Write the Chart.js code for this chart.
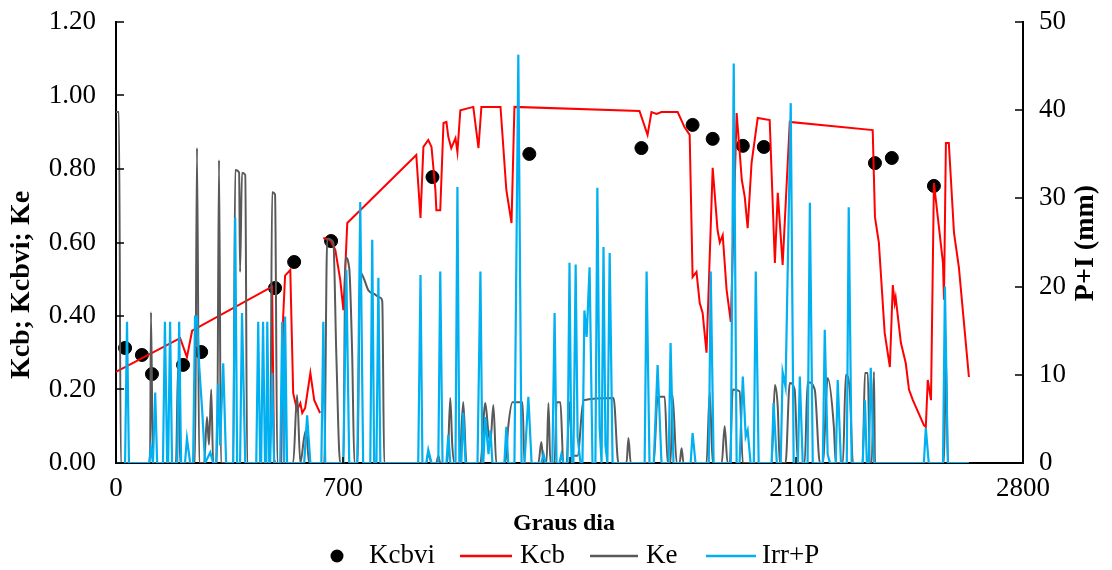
<!DOCTYPE html>
<html>
<head>
<meta charset="utf-8">
<script src="https://cdn.jsdelivr.net/npm/chart.js@4.4.0/dist/chart.umd.min.js"></script>
<style>
  body { margin: 0; background: #fff; }
  #wrap { width: 1112px; height: 570px; }
</style>
</head>
<body>
<div id="wrap"><canvas id="myChart" width="1112" height="570"></canvas></div>
<script>
// Kcbvi (points)
const kcbviX = [28, 80, 111, 207, 263, 491, 550, 664, 977, 1276, 1622, 1780, 1842, 1935, 2000, 2343, 2395, 2525];
const kcbviY = [0.313, 0.294, 0.242, 0.267, 0.302, 0.476, 0.547, 0.604, 0.778, 0.841, 0.857, 0.92, 0.882, 0.863, 0.86, 0.816, 0.83, 0.754];

// Kcb (red line), null = break in the line
const kcbX = [0, 198, 219, 235, 482, 488, 491, 510, 516, 522, 538, 547, 559, 569, 575, 584, 600, 612, 630,
  636, 640, 661, 677, 692, 702, 714, 927, 940, 949, 964, 974, 986, 989, 1001, 1011, 1020, 1026, 1035, 1048, 1054,
  1063, 1103, 1119, 1128, 1187, 1205, 1221, 1230, 1616, 1641, 1653, 1669, 1684, 1734, 1755, 1771, 1780, 1792,
  1802, 1811, 1823, 1842, 1857, 1864, 1873, 1885, 1898, 1916, 1932, 1941, 1950, 1962, 1981, 2018, 2034, 2043,
  2058, 2080, 2336, 2343, 2355, 2373, 2389, 2398, 2404, 2407, 2423, 2438, 2448, 2460, 2494, 2500, 2506, 2516,
  2525, 2537, 2553, 2556, 2562, 2571, 2587, 2602, 2615, 2633];
const kcbY = [0.248, 0.34, 0.288, 0.36, 0.48, 0.01, 0, 0, 0.397, 0.51, 0.525, 0.19, 0.144, 0.163, 0.136, 0.15, 0.245, 0.171, 0.136,
  null, 0.612, 0.607, 0.58, 0.5, 0.416, 0.653, 0.838, 0.667, 0.86, 0.879, 0.86, 0.743, 0.688, 0.688, 0.925, 0.928, 0.887, 0.857, 0.884, 0.846,
  0.96, 0.969, 0.857, 0.969, 0.969, 0.743, 0.653, 0.969, 0.958, 0.893, 0.955, 0.95, 0.955, 0.955, 0.914, 0.893, 0.506, 0.52,
  0.435, 0.408, 0.3, 0.803, 0.634, 0.6, 0.62, 0.471, 0.384, 0.952, 0.77, 0.724, 0.639, 0.816, 0.939, 0.933, 0.544, 0.735,
  0.539, 0.928, 0.906, 0.669, 0.6, 0.354, 0.261, 0.484, 0.435, 0.45, 0.327, 0.272, 0.2, 0.171, 0.103, 0.098, 0.226, 0.171,
  0.762, 0.669, 0.544, 0.444, 0.871, 0.871, 0.626, 0.533, 0.408, 0.234];

// Ke (grey line)
const keX = [0, 9, 15, 105, 108, 114, 185, 192, 198, 244, 250, 257, 272, 281, 287, 294, 300, 312, 318, 324,
  362, 368, 380, 383, 389, 399, 405, 476, 482, 491, 498, 547, 559, 569, 581, 587, 596, 643, 652, 671, 680, 692,
  702, 708, 720, 729, 736, 745, 754, 766, 779, 797, 816, 822, 828, 958, 964, 974, 989, 995, 1001, 1023, 1032, 1038, 1045,
  1060, 1072, 1082, 1125, 1140, 1150, 1156, 1165, 1174, 1202, 1211, 1224, 1255, 1261, 1304, 1313, 1320, 1329, 1335, 1341,
  1354, 1360, 1372, 1381, 1391, 1400, 1409, 1425, 1443, 1536, 1551, 1576, 1582, 1589, 1660, 1672, 1694, 1703,
  1712, 1718, 1731, 1740, 1746, 1752, 1823, 1833, 1842, 1870, 1879, 1888, 1895, 1904, 1925, 1935, 2024, 2034, 2043, 2049,
  2067, 2080, 2095, 2105, 2126, 2135, 2157, 2173, 2182, 2197, 2216, 2222, 2244, 2253, 2265, 2275, 2305, 2312, 2321, 2327,
  2333, 2340, 2343, 2556, 2562, 2568, 2633];
const keY = [0.955, 0.955, 0, 0, 0.41, 0, 0, 0.27, 0, 0, 0.857, 0, 0, 0.125, 0.05, 0.2, 0, 0, 0.824, 0,
  0, 0.797, 0.79, 0.52, 0.79, 0.784, 0, 0, 0.737, 0.73, 0, 0, 0.185, 0, 0.07, 0.09, 0, 0, 0.61, 0.6, 0.3, 0,
  0, 0.56, 0.53, 0.3, 0, 0, 0.52, 0.5, 0.47, 0.46, 0.45, 0.44, 0, 0, 0.027, 0, 0, 0.02, 0, 0, 0.177, 0.05, 0,
  0, 0.166, 0, 0, 0.163, 0.08, 0.06, 0.158, 0, 0, 0.1, 0.165, 0.165, 0, 0, 0.057, 0, 0, 0.163, 0,
  0, 0.165, 0.165, 0, 0, 0.165, 0.02, 0.02, 0.171, 0.177, 0, 0, 0.068, 0, 0, 0.18, 0.18, 0,
  0, 0.185, 0, 0, 0.04, 0, 0, 0.193, 0, 0, 0.1, 0, 0, 0.2, 0.195, 0, 0, 0.212, 0.15, 0,
  0, 0.218, 0.2, 0, 0, 0.22, 0.2, 0, 0, 0.231, 0.1, 0, 0, 0.24, 0.2, 0, 0, 0.245, 0.245, 0,
  0, 0.248, 0, 0, 0.29, 0, 0];

// Irr+P in mm (blue line, right axis)
const irrX = [0, 28, 34, 40, 102, 108, 114, 121, 127, 145, 151, 158, 161, 167, 173, 189, 195, 201, 213, 219, 229,
  238, 244, 250, 257, 266, 275, 291, 300, 309, 315, 321, 331, 340, 362, 368, 374, 383, 389, 399,
  433, 439, 445, 448, 454, 460, 464, 467, 473, 476, 482, 488, 507, 513, 519, 522, 528, 581, 590, 600,
  634, 640, 646, 702, 711, 720, 745, 754, 763, 785, 791, 797, 804, 810, 816, 933, 940, 946, 958, 964, 974,
  995, 1001, 1008, 1020, 1026, 1032, 1048, 1054, 1060, 1066, 1072, 1079, 1116, 1125, 1131, 1134, 1140, 1150, 1156, 1162,
  1199, 1205, 1211, 1230, 1242, 1252, 1261, 1273, 1283, 1313, 1320, 1326, 1347, 1354, 1360, 1369, 1375, 1381,
  1394, 1400, 1406, 1412, 1419, 1425, 1434, 1440, 1446, 1453, 1462, 1471, 1480, 1486, 1493, 1499, 1505, 1511, 1517, 1524, 1533,
  1632, 1638, 1647, 1660, 1672, 1684, 1706, 1712, 1721, 1774, 1780, 1789, 1830, 1836, 1845, 1898, 1907, 1916,
  1925, 1935, 1944, 1950, 1959, 1969, 1975, 1984, 2024, 2030, 2040, 2052, 2058, 2067, 2083, 2092, 2105, 2111, 2120,
  2135, 2142, 2151, 2182, 2188, 2197, 2204, 2222, 2228, 2238, 2256, 2262, 2271, 2305, 2312, 2318, 2324, 2330, 2340,
  2494, 2500, 2509, 2553, 2559, 2568, 2633];
const irrY = [0, 0, 16, 0, 0, 1.7, 0, 8, 0, 0, 16, 0, 0, 16, 0, 0, 16, 0, 0, 2.8, 0,
  0, 16.6, 16.6, 10.9, 6, 0, 1.2, 0, 0, 9, 2, 11.3, 0, 0, 27.8, 0, 0, 17, 0,
  0, 16, 0, 0, 16, 0, 0, 16, 0, 0, 10.2, 0, 0, 16, 0, 16.6, 0, 0, 5.4, 0,
  0, 16, 0, 0, 21.9, 0, 0, 29.6, 0, 0, 25.3, 0, 0, 21, 0, 0, 21.3, 0, 0, 1.5, 0,
  0, 21.7, 0, 0, 3.2, 0, 0, 31.3, 0, 0, 5.7, 0, 0, 21.7, 0, 0, 5.2, 1, 3.7, 0,
  0, 4.1, 0, 0, 46.3, 0, 0, 7.5, 0, 0, 1, 0, 0, 17, 0, 0, 1, 0,
  0, 22.7, 0, 0, 22.5, 3, 0, 0, 17.3, 14.3, 22.2, 0, 0, 31.2, 4, 0, 24.5, 2, 0, 23.8, 0,
  0, 21.7, 0, 0, 11.1, 0, 0, 13.6, 0, 0, 3.4, 0, 0, 21.7, 0, 0, 45.3, 0,
  0, 9.8, 3, 3.7, 0, 0, 21.7, 0, 0, 6.8, 0, 0, 10.3, 8.6, 40.8, 0, 0, 9.8, 0,
  0, 29.5, 0, 0, 15.1, 1, 0, 0, 9.4, 0, 0, 29, 0, 0, 7.1, 0, 0, 10.8, 0,
  0, 4, 0, 0, 20, 0, 0];

const xTicks = [0, 700, 1400, 2100, 2800];
const leftTicks = [0, 0.2, 0.4, 0.6, 0.8, 1.0, 1.2];
const rightTicks = [0, 10, 20, 30, 40, 50];

const FONT = '"Liberation Serif", "Times New Roman", serif';
const RED = '#ff0000', GREY = '#595959', BLUE = '#00b0f0';

function pts(xs, ys) {
  return xs.map((x, i) => ({ x: x, y: ys[i] }));
}

// fixed box sizes so the plot area sits where it does in the picture
function fixWidth(w) {
  return s => { s.width = w; s.paddingTop = 0; s.paddingBottom = 0; };
}

// inside tick marks, axis titles and the legend
const extras = {
  id: 'extras',
  afterDraw(chart) {
    const c = chart.ctx, a = chart.chartArea;
    const sx = chart.scales.x, sy = chart.scales.y, sr = chart.scales.y1;
    c.save();
    c.strokeStyle = '#000';
    c.lineWidth = 1.5;
    c.beginPath();
    leftTicks.forEach(v => { const y = Math.round(sy.getPixelForValue(v)); c.moveTo(a.left, y); c.lineTo(a.left + 8, y); });
    rightTicks.forEach(v => { const y = Math.round(sr.getPixelForValue(v)); c.moveTo(a.right, y); c.lineTo(a.right - 8, y); });
    xTicks.forEach(v => { const x = Math.round(sx.getPixelForValue(v)); c.moveTo(x, a.bottom); c.lineTo(x, a.bottom - 6); });
    c.stroke();

    c.fillStyle = '#000';
    c.textBaseline = 'middle';
    c.textAlign = 'center';
    c.font = 'bold 24px ' + FONT;
    c.fillText('Graus dia', 564, 524);

    c.font = 'bold 28px ' + FONT;
    c.save();
    c.translate(22, 285);
    c.rotate(-Math.PI / 2);
    c.fillText('Kcb; Kcbvi; Ke', 0, 0);
    c.restore();

    c.save();
    c.translate(1086, 243);
    c.rotate(-Math.PI / 2);
    c.fillText('P+I (mm)', 0, 0);
    c.restore();

    // legend
    const ly = 556;
    c.font = '27px ' + FONT;
    c.textAlign = 'left';
    c.beginPath();
    c.arc(337, ly, 6.5, 0, Math.PI * 2);
    c.fill();
    c.fillText('Kcbvi', 369, ly);
    const items = [[RED, 460, 512, 'Kcb', 520], [GREY, 590, 638, 'Ke', 646], [BLUE, 706, 756, 'Irr+P', 762]];
    items.forEach(it => {
      c.strokeStyle = it[0];
      c.lineWidth = 2.5;
      c.beginPath();
      c.moveTo(it[1], ly);
      c.lineTo(it[2], ly);
      c.stroke();
      c.fillText(it[3], it[4], ly);
    });
    c.restore();
  }
};

const ctx = document.getElementById('myChart');

new Chart(ctx, {
  type: 'scatter',
  data: {
    datasets: [
      {
        label: 'Kcbvi',
        data: pts(kcbviX, kcbviY),
        backgroundColor: '#000',
        borderColor: '#000',
        pointRadius: 6.5,
        pointHoverRadius: 6.5,
        showLine: false,
        yAxisID: 'y',
        order: 4
      },
      {
        label: 'Kcb',
        data: pts(kcbX, kcbY),
        borderColor: RED,
        borderWidth: 2,
        pointRadius: 0,
        showLine: true,
        spanGaps: false,
        yAxisID: 'y',
        order: 3
      },
      {
        label: 'Ke',
        data: pts(keX, keY),
        borderColor: GREY,
        borderWidth: 2,
        pointRadius: 0,
        showLine: true,
        cubicInterpolationMode: 'monotone',
        yAxisID: 'y',
        order: 2
      },
      {
        label: 'Irr+P',
        data: pts(irrX, irrY),
        borderColor: BLUE,
        borderWidth: 2.2,
        pointRadius: 0,
        showLine: true,
        yAxisID: 'y1',
        order: 1
      }
    ]
  },
  options: {
    responsive: false,
    animation: false,
    devicePixelRatio: 1,
    layout: { padding: { top: 22, left: 0, right: 0, bottom: 0 } },
    plugins: {
      legend: { display: false },
      tooltip: { enabled: false }
    },
    scales: {
      x: {
        type: 'linear',
        min: 0,
        max: 2800,
        afterBuildTicks: s => { s.ticks = xTicks.map(v => ({ value: v })); },
        afterFit: s => { s.height = 107; s.paddingLeft = 0; s.paddingRight = 0; },
        grid: { display: false, drawTicks: false },
        border: { display: true, color: '#000', width: 2 },
        ticks: { color: '#000', font: { family: FONT, size: 27 }, padding: 10, maxRotation: 0, callback: v => String(v) }
      },
      y: {
        position: 'left',
        min: 0,
        max: 1.2,
        afterBuildTicks: s => { s.ticks = leftTicks.map(v => ({ value: v })); },
        afterFit: fixWidth(116),
        grid: { display: false, drawTicks: false },
        border: { display: true, color: '#000', width: 2 },
        ticks: { color: '#000', font: { family: FONT, size: 27 }, padding: 20, callback: v => v.toFixed(2) }
      },
      y1: {
        position: 'right',
        min: 0,
        max: 50,
        afterBuildTicks: s => { s.ticks = rightTicks.map(v => ({ value: v })); },
        afterFit: fixWidth(89),
        grid: { display: false, drawTicks: false },
        border: { display: true, color: '#000', width: 2 },
        ticks: { color: '#000', font: { family: FONT, size: 27 }, padding: 16 }
      }
    }
  },
  plugins: [extras]
});
</script>
</body>
</html>
